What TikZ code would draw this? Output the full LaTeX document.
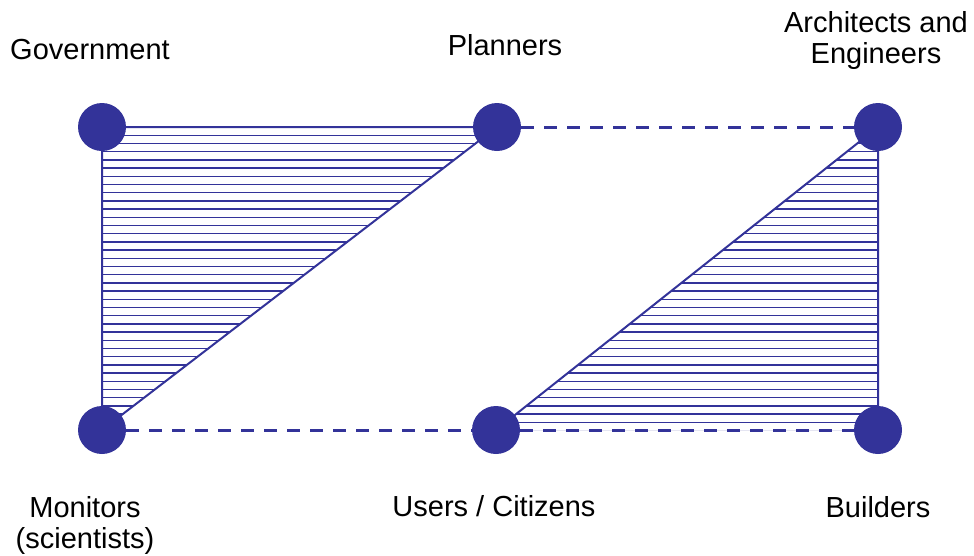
\documentclass[tikz,border=0pt]{standalone}
\usepackage{fontspec}
\setmainfont{Liberation Sans}
\usetikzlibrary{backgrounds}
\definecolor{dblue}{RGB}{51,51,153}

\begin{document}
\begin{tikzpicture}[x=1pt,y=-1pt,
  actor/.style={circle, fill=dblue, minimum size=48pt, inner sep=0pt},
  role/.style={font=\fontsize{29}{31}\selectfont, align=center, anchor=base, inner sep=0pt},
  hatchline/.style={draw=dblue, line width=1.4pt},
  link/.style={draw=dblue, line width=2pt},
  weak/.style={draw=dblue, line width=3pt, dash pattern=on 13pt off 10pt}]
\useasboundingbox (0,0) rectangle (974,555);

\node[actor] (gov) at (102,127) {};
\node[actor] (plan) at (497,127) {};
\node[actor] (arch) at (878,127) {};
\node[actor] (mon) at (102,430) {};
\node[actor] (users) at (496,430) {};
\node[actor] (build) at (878,430) {};

\node[role] (govtxt) at (90,59) {Government};
\node[role] (plantxt) at (505,55) {Planners};
\node[role] (archtxt) at (876,63) {Architects and\\Engineers};
\node[role] (montxt) at (85,548) {Monitors\\(scientists)};
\node[role] (userstxt) at (494,516) {Users / Citizens};
\node[role] (buildtxt) at (878,517) {Builders};

\begin{scope}[on background layer]
% hatched triangles
\begin{scope}
\clip (gov.center) -- (plan.center) -- (mon.center) -- cycle;
\foreach \y in {127,135.2,...,431}
  \draw[hatchline] (90,\y) -- (510,\y);
\end{scope}
\begin{scope}
\clip (arch.center) -- (build.center) -- (users.center) -- cycle;
\foreach \y in {127,135.2,...,431}
  \draw[hatchline] (480,\y) -- (890,\y);
\end{scope}
% solid sides
\draw[link] (mon.center) -- (gov.center) -- (plan.center) -- (mon.center);
\draw[link] (users.center) -- (arch.center) -- (build.center);
% dashed sides
\draw[weak] (plan) -- (arch);
\draw[weak] (mon) -- (users);
\draw[weak] (users) -- (build);
\end{scope}
\end{tikzpicture}
\end{document}
